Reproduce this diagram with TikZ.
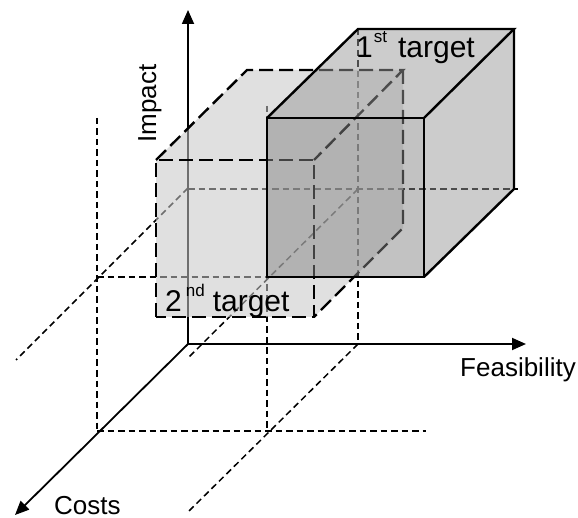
\documentclass[tikz,border=0pt]{standalone}
\usepackage{fontspec}
\setmainfont{Liberation Sans}
\usetikzlibrary{arrows.meta}
\begin{document}
\begin{tikzpicture}[x=1pt,y=-1pt,
  axis/.style={line width=1.8pt,-{Triangle[length=14pt,width=12pt]}},
  guide/.style={line width=1.5pt,dash pattern=on 6.5pt off 4pt},
  edgetwo/.style={line width=2.4pt,dash pattern=on 14pt off 6pt},
  edgeone/.style={line width=2.4pt,line join=miter},
  filltwo/.style={fill=black!22,fill opacity=0.56},
  fillfront/.style={fill=black!48,fill opacity=0.5},
  fillside/.style={fill=black!40,fill opacity=0.5},
  lbl/.style={inner sep=0pt,font=\fontsize{26}{30}\selectfont},
  tgt/.style={inner sep=0pt,font=\fontsize{30}{36}\selectfont}]
\useasboundingbox (0,0) rectangle (578,518);

% axes
\coordinate (O) at (188,344);
\coordinate (Itip) at (188,10);
\coordinate (Ftip) at (526,344);
\coordinate (Ctip) at (15,515);

% guide line end points
\coordinate (g1a) at (358,189); \coordinate (g1b) at (187,359);
\coordinate (g2a) at (188,188); \coordinate (g2b) at (16,360);
\coordinate (g3a) at (358,344); \coordinate (g3b) at (189,511);
\coordinate (g4a) at (188,189); \coordinate (g4b) at (518,189);
\coordinate (g5a) at (97,277);  \coordinate (g5b) at (267,277);
\coordinate (g6a) at (97,431);  \coordinate (g6b) at (426,431);
\coordinate (g7a) at (97,118);  \coordinate (g7b) at (97,431);
\coordinate (g8a) at (267,106); \coordinate (g8b) at (267,431);
\coordinate (g9a) at (358,29);  \coordinate (g9b) at (358,344);

% second target box
\coordinate (a1) at (156,317);
\coordinate (a2) at (156,160);
\coordinate (a3) at (314,160);
\coordinate (a4) at (314,317);
\coordinate (a5) at (247,70);
\coordinate (a6) at (403,70);
\coordinate (a7) at (403,228);

% first target box
\coordinate (b1) at (267,277);
\coordinate (b2) at (267,118);
\coordinate (b3) at (424,118);
\coordinate (b4) at (424,277);
\coordinate (b5) at (358,29);
\coordinate (b6) at (514,29);
\coordinate (b7) at (514,189);

% guides
\foreach \g in {g1,g2,g3,g4,g5,g6,g7,g8,g9}
  \draw[guide] (\g a) -- (\g b);

% axes
\draw[axis] (O) -- (Itip);
\draw[axis] (O) -- (Ftip);
\draw[axis] (O) -- (Ctip);

% second target
\fill[filltwo] (a1) -- (a2) -- (a5) -- (a6) -- (a7) -- (a4) -- cycle;
\draw[edgetwo] (a1) rectangle (a3);
\draw[edgetwo] (a2) -- (a5) -- (a6) -- (a3);
\draw[edgetwo] (a6) -- (a7) -- (a4);

% first target
\fill[fillfront] (b1) rectangle (b3);
\fill[fillside] (b2) -- (b5) -- (b6) -- (b7) -- (b4) -- (b3) -- cycle;
\draw[edgeone] (b1) rectangle (b3);
\draw[edgeone] (b2) -- (b5) -- (b6) -- (b3);
\draw[edgeone] (b6) -- (b7) -- (b4);

% labels
\node[lbl,rotate=90,anchor=base west] (limp) at (156,143) {Impact};
\node[lbl,anchor=base west] (lfeas) at (460,377) {Feasibility};
\node[lbl,anchor=base west] (lcost) at (54,514) {Costs};
\node[tgt,anchor=base west] (lone) at (356,58)
  {1\hspace{1pt}\raisebox{15pt}{\fontsize{17}{20}\selectfont st}\hspace{11pt}target};
\node[tgt,anchor=base west] (ltwo) at (165,312)
  {2\hspace{4pt}\raisebox{15pt}{\fontsize{17}{20}\selectfont nd}\hspace{8pt}target};
\end{tikzpicture}
\end{document}
